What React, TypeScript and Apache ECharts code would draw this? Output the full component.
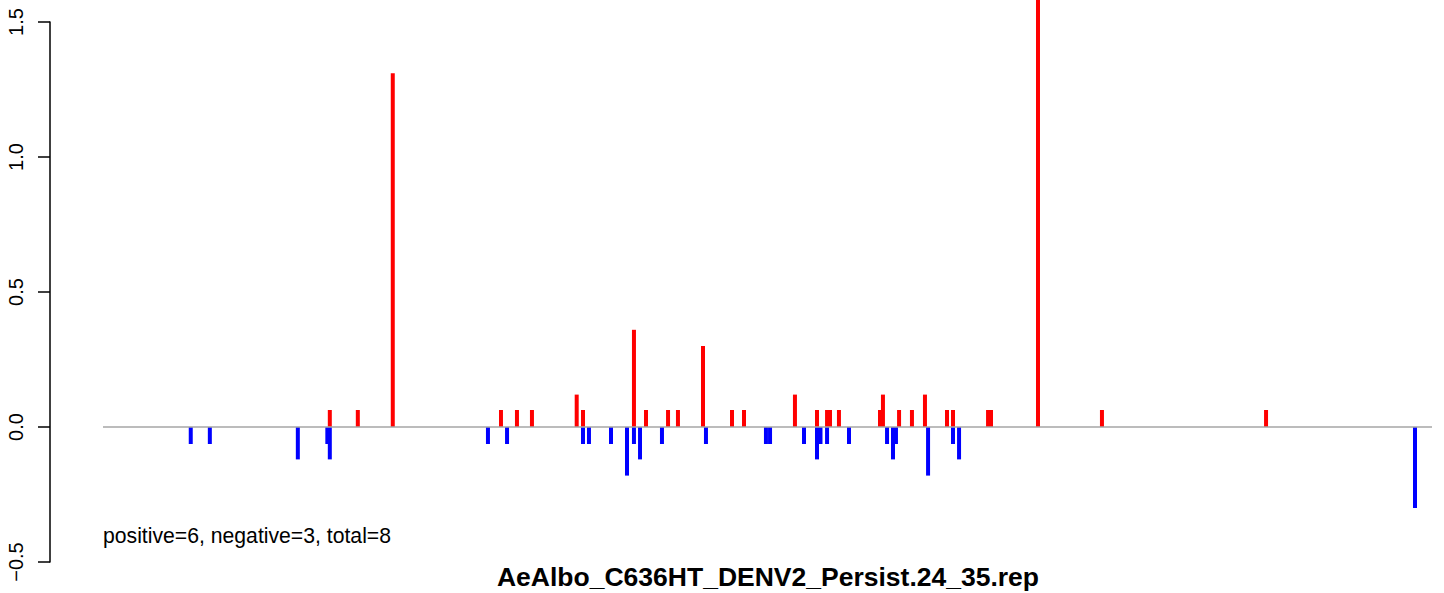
import React, { useEffect, useRef } from "react";
import * as echarts from "echarts";

// Genome positions (nt) and scores of the positive (red) spikes
const posPositions = [1830, 2056, 2338, 3211, 3340, 3461, 3822, 3873, 4284, 4381, 4559, 4639, 4841, 5075, 5172, 5583, 5761, 5842, 5866, 5938, 6269, 6293, 6423, 6527, 6632, 6810, 6858, 7141, 7165, 7544, 8060, 9384];
const posValues = [0.063, 0.063, 1.31, 0.063, 0.063, 0.063, 0.12, 0.063, 0.36, 0.063, 0.063, 0.063, 0.30, 0.063, 0.063, 0.12, 0.063, 0.063, 0.063, 0.063, 0.063, 0.12, 0.063, 0.063, 0.12, 0.063, 0.063, 0.063, 0.063, 2.1, 0.063, 0.063];

// Genome positions (nt) and scores of the negative (blue) spikes
const negPositions = [708, 862, 1572, 1810, 1830, 3106, 3260, 3873, 3921, 4099, 4228, 4284, 4333, 4510, 4865, 5349, 5382, 5656, 5761, 5789, 5842, 6019, 6326, 6374, 6398, 6657, 6858, 6907, 10586];
const negValues = [-0.063, -0.063, -0.12, -0.063, -0.12, -0.063, -0.063, -0.063, -0.063, -0.063, -0.18, -0.063, -0.12, -0.063, -0.063, -0.063, -0.063, -0.063, -0.12, -0.063, -0.063, -0.063, -0.063, -0.12, -0.063, -0.18, -0.063, -0.12, -0.30];

const genomeStart = 0;
const genomeEnd = 10723;

const yTickMin = -0.5;
const yTickMax = 1.5;
const yTickStep = 0.5;

const titleText = "AeAlbo_C636HT_DENV2_Persist.24_35.rep";
const summaryText = "positive=6, negative=3, total=8";

const FONT = "'Liberation Sans', Arial, Helvetica, sans-serif";

export default function App() {
  const ref = useRef<HTMLDivElement>(null);

  useEffect(() => {
    if (!ref.current) return;
    const chart = echarts.init(ref.current, null, { renderer: "svg" });
    const W = 1444;
    const H = 593;
    const plotTop = 22; // y pixel of 1.5
    const plotBottom = 562; // y pixel of -0.5
    const pxPerUnit = (plotBottom - plotTop) / (yTickMax - yTickMin);
    const dataMax = yTickMax + plotTop / pxPerUnit;

    chart.setOption({
      animation: false,
      backgroundColor: "#ffffff",
      grid: [
        { left: 50, top: plotTop, bottom: H - plotBottom, width: 10, containLabel: false },
        { left: 103, right: W - 1432, top: 0, bottom: H - plotBottom, containLabel: false },
      ],
      xAxis: [
        { gridIndex: 0, type: "value", show: false, min: 0, max: 1 },
        { gridIndex: 1, type: "value", show: false, min: genomeStart, max: genomeEnd },
      ],
      yAxis: [
        {
          gridIndex: 0,
          type: "value",
          min: yTickMin,
          max: yTickMax,
          interval: yTickStep,
          position: "left",
          splitLine: { show: false },
          axisLine: { show: true, lineStyle: { color: "#000", width: 1.5 } },
          axisTick: { show: true, inside: false, length: 12, lineStyle: { color: "#000", width: 1.5 } },
          axisLabel: {
            show: true,
            rotate: 90,
            margin: 24,
            color: "#000",
            fontSize: 20,
            fontFamily: FONT,
            formatter: (v: number) => (v < 0 ? "\u2212" + Math.abs(v).toFixed(1) : v.toFixed(1)),
          },
        },
        { gridIndex: 1, type: "value", show: false, min: yTickMin, max: dataMax },
      ],
      series: [
        {
          type: "bar",
          xAxisIndex: 1,
          yAxisIndex: 1,
          barWidth: 4,
          barGap: "-100%",
          clip: true,
          itemStyle: { color: "#ff0000" },
          data: posPositions.map((p, i) => [p, posValues[i]]),
          z: 2,
        },
        {
          type: "bar",
          xAxisIndex: 1,
          yAxisIndex: 1,
          barWidth: 4,
          barGap: "-100%",
          clip: true,
          itemStyle: { color: "#0000ff" },
          data: negPositions.map((p, i) => [p, negValues[i]]),
          z: 2,
        },
        {
          type: "line",
          xAxisIndex: 1,
          yAxisIndex: 1,
          symbol: "none",
          lineStyle: { color: "#a6a6a6", width: 1.7 },
          data: [
            [genomeStart, 0],
            [genomeEnd, 0],
          ],
          z: 3,
        },
      ],
      graphic: [
        {
          type: "text",
          x: 103,
          y: 535,
          style: {
            text: summaryText,
            font: `21.2px ${FONT}`,
            fill: "#000",
            textAlign: "left",
            textVerticalAlign: "middle",
            align: "left",
            verticalAlign: "middle",
          },
        },
        {
          type: "text",
          x: 768,
          y: 577,
          style: {
            text: titleText,
            font: `bold 26.5px ${FONT}`,
            fill: "#000",
            textAlign: "center",
            textVerticalAlign: "middle",
            align: "center",
            verticalAlign: "middle",
          },
        },
      ],
    });
    return () => chart.dispose();
  }, []);

  return (
    <div
      ref={ref}
      style={{ position: "absolute", left: 0, top: 0, width: 1444, height: 593, background: "#fff" }}
    />
  );
}
